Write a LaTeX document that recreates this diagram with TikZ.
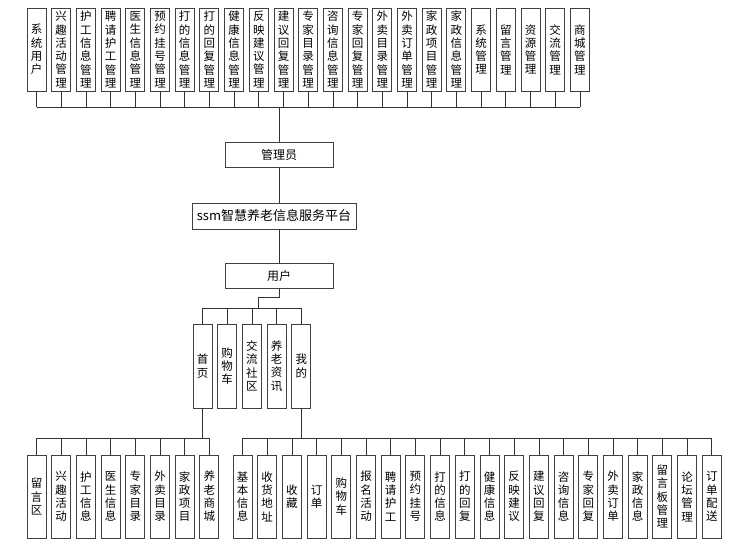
\documentclass[tikz,border=0pt]{standalone}
\usepackage{fontspec}
\setmainfont{Noto Sans CJK SC}
\usepackage{tikz}
\usetikzlibrary{positioning}
\tikzstyle{vbox} = [rectangle, draw=black!75, line width=1pt, fill=white, inner sep=0pt, outer sep=0pt,
                minimum width=19pt, minimum height=83pt, align=center, font=\fontsize{11.5}{13.3}\selectfont]
\tikzstyle{hbox} = [rectangle, draw=black!75, line width=1pt, fill=white, inner sep=0pt, outer sep=0pt,
                minimum width=108pt, minimum height=25pt, font=\fontsize{12}{14}\selectfont]
\tikzstyle{line} = [draw, black!80, line width=0.8pt]

\begin{document}
\begin{tikzpicture}[x=1pt, y=-1pt, node distance=5.7pt]
        \useasboundingbox (0,0) rectangle (742,550);
        % administrator functions
        \node[vbox] (sysuser) at (36.5,49.5) {系\\统\\用\\户};
        \node[vbox, right=of sysuser] (hobby) {兴\\趣\\活\\动\\管\\理};
        \node[vbox, right=of hobby] (carer) {护\\工\\信\\息\\管\\理};
        \node[vbox, right=of carer] (hire) {聘\\请\\护\\工\\管\\理};
        \node[vbox, right=of hire] (doctor) {医\\生\\信\\息\\管\\理};
        \node[vbox, right=of doctor] (booking) {预\\约\\挂\\号\\管\\理};
        \node[vbox, right=of booking] (taxi) {打\\的\\信\\息\\管\\理};
        \node[vbox, right=of taxi] (taxireply) {打\\的\\回\\复\\管\\理};
        \node[vbox, right=of taxireply] (health) {健\\康\\信\\息\\管\\理};
        \node[vbox, right=of health] (advice) {反\\映\\建\\议\\管\\理};
        \node[vbox, right=of advice] (advreply) {建\\议\\回\\复\\管\\理};
        \node[vbox, right=of advreply] (experts) {专\\家\\目\\录\\管\\理};
        \node[vbox, right=of experts] (consult) {咨\\询\\信\\息\\管\\理};
        \node[vbox, right=of consult] (expreply) {专\\家\\回\\复\\管\\理};
        \node[vbox, right=of expreply] (food) {外\\卖\\目\\录\\管\\理};
        \node[vbox, right=of food] (foodorder) {外\\卖\\订\\单\\管\\理};
        \node[vbox, right=of foodorder] (homeitem) {家\\政\\项\\目\\管\\理};
        \node[vbox, right=of homeitem] (homeinfo) {家\\政\\信\\息\\管\\理};
        \node[vbox, right=of homeinfo] (system) {系\\统\\管\\理};
        \node[vbox, right=of system] (message) {留\\言\\管\\理};
        \node[vbox, right=of message] (resource) {资\\源\\管\\理};
        \node[vbox, right=of resource] (forum) {交\\流\\管\\理};
        \node[vbox, right=of forum] (mall) {商\\城\\管\\理};

        \node[hbox] (admin) at (279,154.5) {管理员};
        \node[hbox, minimum width=164pt, minimum height=26pt, font=\fontsize{13}{15}\selectfont] (platform) at (274,216) {ssm智慧养老信息服务平台};
        \node[hbox] (user) at (279,276) {用户};

        % user functions
        \node[vbox, minimum height=84pt] (home) at (202.5,366) {首\\页};
        \node[vbox, minimum height=84pt, right=of home] (cart) {购\\物\\车};
        \node[vbox, minimum height=84pt, right=of cart] (community) {交\\流\\社\\区};
        \node[vbox, minimum height=84pt, right=of community] (news) {养\\老\\资\\讯};
        \node[vbox, minimum height=84pt, right=of news] (mine) {我\\的};

        \node[vbox] (hmsg) at (36.5,496.5) {留\\言\\区};
        \node[vbox, right=of hmsg] (hhobby) {兴\\趣\\活\\动};
        \node[vbox, right=of hhobby] (hcarer) {护\\工\\信\\息};
        \node[vbox, right=of hcarer] (hdoctor) {医\\生\\信\\息};
        \node[vbox, right=of hdoctor] (hexpert) {专\\家\\目\\录};
        \node[vbox, right=of hexpert] (hfood) {外\\卖\\目\\录};
        \node[vbox, right=of hfood] (hhouse) {家\\政\\项\\目};
        \node[vbox, right=of hhouse] (hmall) {养\\老\\商\\城};

        \node[vbox] (mbasic) at (242.5,496.5) {基\\本\\信\\息};
        \node[vbox, right=of mbasic] (maddr) {收\\货\\地\\址};
        \node[vbox, right=of maddr] (mfav) {收\\藏};
        \node[vbox, right=of mfav] (morder) {订\\单};
        \node[vbox, right=of morder] (mcart) {购\\物\\车};
        \node[vbox, right=of mcart] (msignup) {报\\名\\活\\动};
        \node[vbox, right=of msignup] (mhire) {聘\\请\\护\\工};
        \node[vbox, right=of mhire] (mbook) {预\\约\\挂\\号};
        \node[vbox, right=of mbook] (mtaxi) {打\\的\\信\\息};
        \node[vbox, right=of mtaxi] (mtaxirep) {打\\的\\回\\复};
        \node[vbox, right=of mtaxirep] (mhealth) {健\\康\\信\\息};
        \node[vbox, right=of mhealth] (madvice) {反\\映\\建\\议};
        \node[vbox, right=of madvice] (madvrep) {建\\议\\回\\复};
        \node[vbox, right=of madvrep] (mconsult) {咨\\询\\信\\息};
        \node[vbox, right=of mconsult] (mexprep) {专\\家\\回\\复};
        \node[vbox, right=of mexprep] (mfood) {外\\卖\\订\\单};
        \node[vbox, right=of mfood] (mhouse) {家\\政\\信\\息};
        \node[vbox, right=of mhouse] (mboard) {留\\言\\板\\管\\理};
        \node[vbox, right=of mboard] (mforum) {论\\坛\\管\\理};
        \node[vbox, right=of mforum] (mdeliver) {订\\单\\配\\送};

        \coordinate (topbus) at (0,107);
        \coordinate (jog) at (258,297);
        \coordinate (userbus) at (0,308);
        \coordinate (bottombus) at (0,438);

        % top tree
        \path[line] (sysuser.south |- topbus) -- (mall.south |- topbus);
        \path[line] (sysuser.south) -- (sysuser.south |- topbus);
        \path[line] (hobby.south) -- (hobby.south |- topbus);
        \path[line] (carer.south) -- (carer.south |- topbus);
        \path[line] (hire.south) -- (hire.south |- topbus);
        \path[line] (doctor.south) -- (doctor.south |- topbus);
        \path[line] (booking.south) -- (booking.south |- topbus);
        \path[line] (taxi.south) -- (taxi.south |- topbus);
        \path[line] (taxireply.south) -- (taxireply.south |- topbus);
        \path[line] (health.south) -- (health.south |- topbus);
        \path[line] (advice.south) -- (advice.south |- topbus);
        \path[line] (advreply.south) -- (advreply.south |- topbus);
        \path[line] (experts.south) -- (experts.south |- topbus);
        \path[line] (consult.south) -- (consult.south |- topbus);
        \path[line] (expreply.south) -- (expreply.south |- topbus);
        \path[line] (food.south) -- (food.south |- topbus);
        \path[line] (foodorder.south) -- (foodorder.south |- topbus);
        \path[line] (homeitem.south) -- (homeitem.south |- topbus);
        \path[line] (homeinfo.south) -- (homeinfo.south |- topbus);
        \path[line] (system.south) -- (system.south |- topbus);
        \path[line] (message.south) -- (message.south |- topbus);
        \path[line] (resource.south) -- (resource.south |- topbus);
        \path[line] (forum.south) -- (forum.south |- topbus);
        \path[line] (mall.south) -- (mall.south |- topbus);
        \path[line] (admin.north) -- (admin.north |- topbus);
        \path[line] (admin.south) -- (admin.south |- platform.north);
        \path[line] (admin.south |- platform.south) -- (user.north);

        % user tree
        \path[line] (user.south) |- (jog) -- (jog |- userbus);
        \path[line] (home.north |- userbus) -- (mine.north |- userbus);
        \path[line] (home.north) -- (home.north |- userbus);
        \path[line] (cart.north) -- (cart.north |- userbus);
        \path[line] (community.north) -- (community.north |- userbus);
        \path[line] (news.north) -- (news.north |- userbus);
        \path[line] (mine.north) -- (mine.north |- userbus);

        \path[line] (home.south) -- (home.south |- bottombus);
        \path[line] (hmsg.north |- bottombus) -- (hmall.north |- bottombus);
        \path[line] (hmsg.north) -- (hmsg.north |- bottombus);
        \path[line] (hhobby.north) -- (hhobby.north |- bottombus);
        \path[line] (hcarer.north) -- (hcarer.north |- bottombus);
        \path[line] (hdoctor.north) -- (hdoctor.north |- bottombus);
        \path[line] (hexpert.north) -- (hexpert.north |- bottombus);
        \path[line] (hfood.north) -- (hfood.north |- bottombus);
        \path[line] (hhouse.north) -- (hhouse.north |- bottombus);
        \path[line] (hmall.north) -- (hmall.north |- bottombus);

        \path[line] (mine.south) -- (mine.south |- bottombus);
        \path[line] (mbasic.north |- bottombus) -- (mdeliver.north |- bottombus);
        \path[line] (mbasic.north) -- (mbasic.north |- bottombus);
        \path[line] (maddr.north) -- (maddr.north |- bottombus);
        \path[line] (mfav.north) -- (mfav.north |- bottombus);
        \path[line] (morder.north) -- (morder.north |- bottombus);
        \path[line] (mcart.north) -- (mcart.north |- bottombus);
        \path[line] (msignup.north) -- (msignup.north |- bottombus);
        \path[line] (mhire.north) -- (mhire.north |- bottombus);
        \path[line] (mbook.north) -- (mbook.north |- bottombus);
        \path[line] (mtaxi.north) -- (mtaxi.north |- bottombus);
        \path[line] (mtaxirep.north) -- (mtaxirep.north |- bottombus);
        \path[line] (mhealth.north) -- (mhealth.north |- bottombus);
        \path[line] (madvice.north) -- (madvice.north |- bottombus);
        \path[line] (madvrep.north) -- (madvrep.north |- bottombus);
        \path[line] (mconsult.north) -- (mconsult.north |- bottombus);
        \path[line] (mexprep.north) -- (mexprep.north |- bottombus);
        \path[line] (mfood.north) -- (mfood.north |- bottombus);
        \path[line] (mhouse.north) -- (mhouse.north |- bottombus);
        \path[line] (mboard.north) -- (mboard.north |- bottombus);
        \path[line] (mforum.north) -- (mforum.north |- bottombus);
        \path[line] (mdeliver.north) -- (mdeliver.north |- bottombus);
\end{tikzpicture}
\end{document}
